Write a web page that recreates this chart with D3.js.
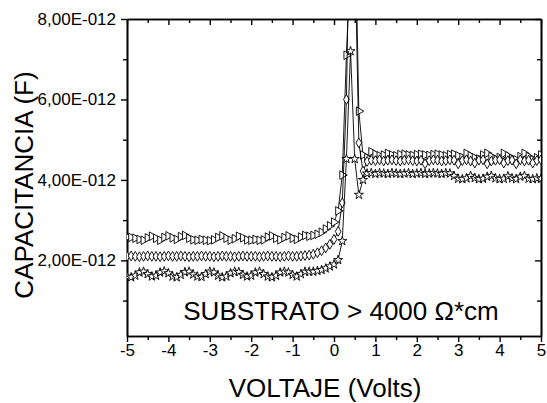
<!DOCTYPE html>
<html>
<head>
<meta charset="utf-8">
<script src="https://cdn.jsdelivr.net/npm/d3@7"></script>
<style>
body { margin: 0; background: #fff; }
text { font-family: "Liberation Sans", Arial, sans-serif; fill: #000; }
</style>
</head>
<body>
<div id="graphHolder"></div>
<script>
// voltage sweep (V)
var volts = [
  -5.0, -4.9, -4.8, -4.7, -4.6, -4.5, -4.4, -4.3, -4.2, -4.1,
  -4.0, -3.9, -3.8, -3.7, -3.6, -3.5, -3.4, -3.3, -3.2, -3.1,
  -3.0, -2.9, -2.8, -2.7, -2.6, -2.5, -2.4, -2.3, -2.2, -2.1,
  -2.0, -1.9, -1.8, -1.7, -1.6, -1.5, -1.4, -1.3, -1.2, -1.1,
  -1.0, -0.9, -0.8, -0.7, -0.6, -0.5, -0.4, -0.3, -0.2, -0.1,
  0.0, 0.1, 0.2, 0.3, 0.4, 0.5, 0.6, 0.7, 0.8, 0.9,
  1.0, 1.1, 1.2, 1.3, 1.4, 1.5, 1.6, 1.7, 1.8, 1.9,
  2.0, 2.1, 2.2, 2.3, 2.4, 2.5, 2.6, 2.7, 2.8, 2.9,
  3.0, 3.1, 3.2, 3.3, 3.4, 3.5, 3.6, 3.7, 3.8, 3.9,
  4.0, 4.1, 4.2, 4.3, 4.4, 4.5, 4.6, 4.7, 4.8, 4.9, 5.0
];

// capacitance in pF (x 1E-012 F)
var capTriangle = [
  2.58, 2.57, 2.55, 2.52, 2.50, 2.56, 2.60, 2.55, 2.50, 2.57,
  2.61, 2.56, 2.52, 2.59, 2.62, 2.55, 2.51, 2.50, 2.52, 2.50,
  2.49, 2.51, 2.57, 2.61, 2.55, 2.50, 2.54, 2.60, 2.56, 2.51,
  2.50, 2.52, 2.50, 2.51, 2.58, 2.61, 2.55, 2.51, 2.57, 2.61,
  2.55, 2.52, 2.58, 2.62, 2.60, 2.62, 2.65, 2.70, 2.78, 2.86,
  2.95, 3.23, 4.12, 7.10, 9.50, 11.0, 5.71, 4.62, 4.55, 4.70,
  4.64, 4.60, 4.62, 4.66, 4.62, 4.60, 4.63, 4.64, 4.62, 4.61,
  4.63, 4.64, 4.62, 4.61, 4.63, 4.64, 4.62, 4.60, 4.63, 4.64,
  4.60, 4.56, 4.66, 4.60, 4.55, 4.52, 4.62, 4.66, 4.58, 4.52,
  4.56, 4.66, 4.60, 4.53, 4.50, 4.58, 4.66, 4.58, 4.50, 4.55, 4.62
];

var capDiamond = [
  2.10, 2.11, 2.10, 2.09, 2.10, 2.11, 2.10, 2.10, 2.09, 2.10,
  2.11, 2.10, 2.10, 2.11, 2.10, 2.09, 2.10, 2.10, 2.11, 2.10,
  2.10, 2.09, 2.10, 2.11, 2.10, 2.10, 2.09, 2.10, 2.11, 2.10,
  2.10, 2.10, 2.09, 2.10, 2.11, 2.10, 2.10, 2.09, 2.10, 2.11,
  2.10, 2.10, 2.11, 2.12, 2.13, 2.15, 2.19, 2.24, 2.31, 2.40,
  2.52, 2.72, 3.43, 6.00, 12.0, 10.0, 4.92, 4.22, 4.46, 4.49,
  4.48, 4.50, 4.47, 4.49, 4.50, 4.48, 4.47, 4.49, 4.50, 4.48,
  4.47, 4.49, 4.40, 4.48, 4.50, 4.49, 4.47, 4.48, 4.50, 4.49,
  4.40, 4.48, 4.50, 4.47, 4.42, 4.49, 4.50, 4.40, 4.47, 4.49,
  4.50, 4.42, 4.48, 4.49, 4.40, 4.50, 4.47, 4.49, 4.42, 4.48, 4.50
];

var capStar = [
  1.60, 1.58, 1.62, 1.70, 1.72, 1.66, 1.60, 1.62, 1.70, 1.73,
  1.68, 1.60, 1.58, 1.64, 1.71, 1.72, 1.65, 1.60, 1.59, 1.66,
  1.72, 1.70, 1.62, 1.58, 1.60, 1.68, 1.72, 1.71, 1.64, 1.60,
  1.62, 1.70, 1.72, 1.66, 1.60, 1.58, 1.62, 1.70, 1.72, 1.70,
  1.64, 1.60, 1.66, 1.72, 1.72, 1.72, 1.74, 1.76, 1.80, 1.85,
  1.90, 2.01, 2.48, 4.52, 7.20, 4.52, 3.63, 4.00, 4.16, 4.17,
  4.15, 4.17, 4.16, 4.15, 4.17, 4.16, 4.15, 4.16, 4.17, 4.15,
  4.16, 4.17, 4.15, 4.16, 4.17, 4.16, 4.15, 4.17, 4.16, 4.10,
  4.03, 4.02, 4.04, 4.10, 4.05, 4.02, 4.03, 4.08, 4.10, 4.04,
  4.02, 4.03, 4.09, 4.04, 4.02, 4.08, 4.10, 4.03, 4.02, 4.04, 4.03
];

var xMajorTicks = [-5, -4, -3, -2, -1, 0, 1, 2, 3, 4, 5];
var xMinorTicks = [-4.5, -3.5, -2.5, -1.5, -0.5, 0.5, 1.5, 2.5, 3.5, 4.5];
var yMajorTicks = [2, 4, 6, 8];
var yMinorTicks = [1, 3, 5, 7];

drawChart();

function drawChart() {

    var graphWidth = 547, graphHeight = 403;
    var pLeft = 127, pRight = 541, pTop = 19, pBottom = 336;

    var svg = d3.select("#graphHolder")
            .append("svg").attr("id", "graph")
            .attr("width", graphWidth)
            .attr("height", graphHeight);

    var x = d3.scaleLinear().domain([-5, 5]).range([pLeft, pRight]);
    var y = d3.scaleLinear().domain([0.12, 8]).range([pBottom, pTop]);

    svg.append("clipPath").attr("id", "plotClip")
            .append("rect")
            .attr("x", pLeft).attr("y", pTop)
            .attr("width", pRight - pLeft).attr("height", pBottom - pTop);

    var yFmt = function (d) {
        return d3.format(".2f")(d).replace(".", ",") + "E-012";
    };

    function styleAxis(g) {
        g.attr("font-size", null).attr("font-family", null);
        g.select(".domain").attr("stroke", "#000").attr("stroke-width", 1.6);
        g.selectAll(".tick line").attr("stroke", "#000").attr("stroke-width", 1.4);
        g.selectAll(".tick text").attr("font-size", "17px");
    }

    // bottom
    svg.append("g").attr("transform", "translate(0," + pBottom + ")")
            .call(d3.axisBottom(x).tickValues(xMinorTicks).tickFormat("").tickSizeInner(4).tickSizeOuter(0))
            .call(styleAxis);
    svg.append("g").attr("transform", "translate(0," + pBottom + ")")
            .call(d3.axisBottom(x).tickValues(xMajorTicks).tickFormat(function (d) { return String(d); })
                    .tickSizeInner(6).tickSizeOuter(0).tickPadding(2))
            .call(styleAxis);

    // top (ticks pointing down)
    svg.append("g").attr("transform", "translate(0," + pTop + ")")
            .call(d3.axisTop(x).tickValues(xMinorTicks).tickFormat("").tickSizeInner(-4).tickSizeOuter(0))
            .call(styleAxis);
    svg.append("g").attr("transform", "translate(0," + pTop + ")")
            .call(d3.axisTop(x).tickValues(xMajorTicks).tickFormat("").tickSizeInner(-6).tickSizeOuter(0))
            .call(styleAxis);

    // left
    svg.append("g").attr("transform", "translate(" + pLeft + ",0)")
            .call(d3.axisLeft(y).tickValues(yMinorTicks).tickFormat("").tickSizeInner(4).tickSizeOuter(0))
            .call(styleAxis);
    svg.append("g").attr("transform", "translate(" + pLeft + ",0)")
            .call(d3.axisLeft(y).tickValues(yMajorTicks).tickFormat(yFmt).tickSizeInner(6).tickSizeOuter(0).tickPadding(5))
            .call(styleAxis);

    // right (ticks pointing left)
    svg.append("g").attr("transform", "translate(" + pRight + ",0)")
            .call(d3.axisRight(y).tickValues(yMinorTicks).tickFormat("").tickSizeInner(-4).tickSizeOuter(0))
            .call(styleAxis);
    svg.append("g").attr("transform", "translate(" + pRight + ",0)")
            .call(d3.axisRight(y).tickValues(yMajorTicks).tickFormat("").tickSizeInner(-6).tickSizeOuter(0))
            .call(styleAxis);

    // series
    var series = [
        {values: capTriangle, symbol: d3.symbolTriangle, size: 32, rotate: 90},
        {values: capDiamond, symbol: d3.symbolDiamond, size: 28, rotate: 0},
        {values: capStar, symbol: d3.symbolStar, size: 26, rotate: 0}
    ];

    var plot = svg.append("g").attr("clip-path", "url(#plotClip)");

    var line = d3.line()
            .x(function (d, i) { return x(volts[i]); })
            .y(function (d) { return y(d); });

    series.forEach(function (s) {
        plot.append("path")
                .datum(s.values)
                .attr("fill", "none")
                .attr("stroke", "#000")
                .attr("stroke-width", 0.9)
                .attr("d", line);

        var sym = d3.symbol().type(s.symbol).size(s.size);
        plot.append("g").selectAll("path")
                .data(s.values)
                .enter().append("path")
                .attr("d", sym)
                .attr("transform", function (d, i) {
                    return "translate(" + x(volts[i]) + "," + y(d) + ") rotate(" + s.rotate + ")";
                })
                .attr("fill", "#fff")
                .attr("stroke", "#000")
                .attr("stroke-width", 0.9);
    });

    // labels
    svg.append("text")
            .attr("transform", "translate(33,185) rotate(-90)")
            .attr("text-anchor", "middle")
            .style("font-size", "26px")
            .text("CAPACITANCIA (F)");

    svg.append("text")
            .attr("x", 325).attr("y", 397)
            .attr("text-anchor", "middle")
            .style("font-size", "26px")
            .text("VOLTAJE (Volts)");

    svg.append("text")
            .attr("x", 341).attr("y", 320)
            .attr("text-anchor", "middle")
            .style("font-size", "26px")
            .text("SUBSTRATO > 4000 \u03A9*cm");
}
</script>
</body>
</html>
